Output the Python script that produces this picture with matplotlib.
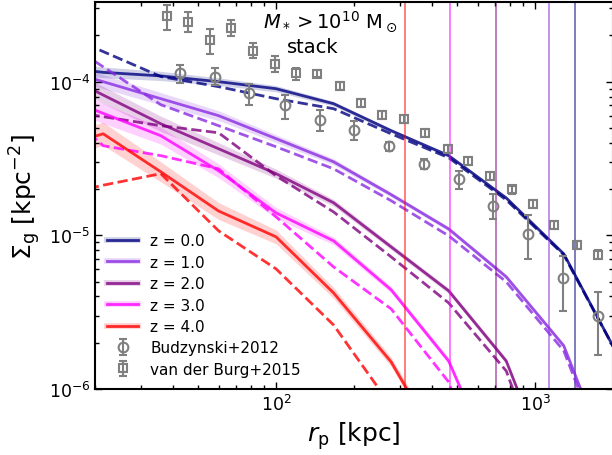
import matplotlib

matplotlib.use("Agg")
import matplotlib.pyplot as plt
import numpy as np
from matplotlib.lines import Line2D

# radial bins of the simulated profiles [kpc]
r_kpc = [12.9, 21.5, 35.9, 60.0, 100.0, 166.8, 278.3, 464.2, 774.3, 1291.5, 2154.4]

z_labels = ["z = 0.0", "z = 1.0", "z = 2.0", "z = 3.0", "z = 4.0"]
z_colors = ["navy", "blueviolet", "purple", "magenta", "red"]

# solid: stack profile, dashed: second estimate, band: scatter in dex
sigma_z0 = [1.27e-4, 1.15e-4, 1.09e-4, 1.00e-4, 9.0e-5, 7.19e-5, 4.80e-5, 3.30e-5, 1.75e-5, 7.57e-6, 1.50e-6]
sigma_z0_dash = [2.30e-4, 1.57e-4, 1.08e-4, 9.28e-5, 7.75e-5, 6.67e-5, 4.58e-5, 3.20e-5, 1.70e-5, 7.46e-6, 1.50e-6]
band_z0 = [0.04, 0.035, 0.03, 0.025, 0.02, 0.015, 0.012, 0.012, 0.012, 0.012, 0.012]

sigma_z1 = [1.29e-4, 1.00e-4, 7.75e-5, 6.01e-5, 4.26e-5, 3.01e-5, 1.84e-5, 1.10e-5, 5.37e-6, 1.91e-6, 2.1e-7]
sigma_z1_dash = [2.20e-4, 1.25e-4, 7.08e-5, 5.17e-5, 3.77e-5, 2.71e-5, 1.68e-5, 9.93e-6, 4.98e-6, 1.77e-6, 1.9e-7]
band_z1 = [0.05, 0.045, 0.04, 0.032, 0.025, 0.02, 0.015, 0.015, 0.015, 0.015, 0.015]

sigma_z2 = [1.26e-4, 8.19e-5, 5.32e-5, 3.66e-5, 2.52e-5, 1.63e-5, 8.41e-6, 4.35e-6, 1.52e-6, 1.7e-7, np.nan]
sigma_z2_dash = [6.77e-5, 5.92e-5, 5.17e-5, 4.65e-5, 2.44e-5, 1.42e-5, 7.24e-6, 3.63e-6, 1.31e-6, 1.24e-7, np.nan]
band_z2 = [0.06, 0.055, 0.05, 0.04, 0.03, 0.022, 0.018, 0.018, 0.018, 0.018, 0.018]

sigma_z3 = [8.74e-5, 6.22e-5, 4.45e-5, 2.63e-5, 1.40e-5, 9.21e-6, 4.42e-6, 1.52e-6, 2.07e-7, np.nan, np.nan]
sigma_z3_dash = [8.35e-5, 3.83e-5, 3.30e-5, 2.71e-5, 1.32e-5, 6.23e-6, 3.32e-6, 1.11e-6, 1.0e-7, np.nan, np.nan]
band_z3 = [0.07, 0.065, 0.055, 0.045, 0.035, 0.025, 0.02, 0.02, 0.02, 0.02, 0.02]

sigma_z4 = [3.53e-5, 4.58e-5, 2.59e-5, 1.44e-5, 9.78e-6, 4.22e-6, 1.50e-6, 3.40e-7, np.nan, np.nan, np.nan]
sigma_z4_dash = [1.74e-5, 2.12e-5, 2.52e-5, 1.07e-5, 6.05e-6, 2.61e-6, 7.75e-7, np.nan, np.nan, np.nan, np.nan]
band_z4 = [0.08, 0.075, 0.065, 0.055, 0.045, 0.035, 0.03, 0.03, 0.03, 0.03, 0.03]

# vertical markers per redshift [kpc]
r_vir = [1426, 1132, 708, 471, 314]

# Budzynski+2012
bud_r = [42.4, 58.2, 78.8, 108.3, 147.6, 199.6, 274.2, 374.2, 510.6, 689, 940, 1282, 1745]
bud_sigma = [1.14e-4, 1.08e-4, 8.44e-5, 7.01e-5, 5.65e-5, 4.87e-5, 3.83e-5, 2.92e-5, 2.33e-5, 1.56e-5, 1.02e-5, 5.26e-6, 2.98e-6]
bud_hi = [1.28e-4, 1.22e-4, 9.70e-5, 8.23e-5, 6.57e-5, 5.57e-5, 4.07e-5, 3.15e-5, 2.63e-5, 1.86e-5, 1.35e-5, 7.38e-6, 4.31e-6]
bud_lo = [9.85e-5, 9.46e-5, 7.01e-5, 5.74e-5, 4.77e-5, 4.19e-5, 3.55e-5, 2.71e-5, 2.01e-5, 1.28e-5, 7.03e-6, 3.24e-6, 1.66e-6]

# van der Burg+2015
vdb_r = [37.8, 45.9, 55.7, 67.1, 81.6, 99.1, 119.4, 143.8, 176.3, 212.4, 255.9, 310.6, 377.6,
         459.3, 552.6, 671.5, 816.8, 982.4, 1183, 1451, 1745]
vdb_sigma = [2.67e-4, 2.45e-4, 1.86e-4, 2.25e-4, 1.58e-4, 1.31e-4, 1.14e-4, 1.13e-4, 9.42e-5, 7.30e-5, 6.10e-5,
             5.74e-5, 4.65e-5, 3.66e-5, 3.06e-5, 2.44e-5, 1.99e-5, 1.60e-5, 1.17e-5, 8.70e-6, 7.50e-6]
vdb_hi = [3.17e-4, 2.84e-4, 2.21e-4, 2.53e-4, 1.79e-4, 1.46e-4, 1.22e-4, 1.20e-4, 1.00e-4, 7.75e-5, 6.48e-5,
          6.10e-5, 4.94e-5, 3.89e-5, 3.25e-5, 2.59e-5, 2.11e-5, 1.70e-5, 1.24e-5, 9.24e-6, 7.97e-6]
vdb_lo = [2.18e-4, 2.11e-4, 1.51e-4, 1.99e-4, 1.43e-4, 1.16e-4, 1.03e-4, 1.065e-4, 8.87e-5, 6.87e-5, 5.74e-5,
          5.40e-5, 4.38e-5, 3.45e-5, 2.88e-5, 2.30e-5, 1.87e-5, 1.51e-5, 1.10e-5, 8.19e-6, 7.06e-6]


def asym_err(values, lo, hi):
    values = np.asarray(values)
    return [values - np.asarray(lo), np.asarray(hi) - values]


fig = plt.figure(figsize=(6.12, 4.56), dpi=100)
ax = fig.add_axes([95 / 612, 66 / 456, 518 / 612, 387 / 456])

r = np.asarray(r_kpc)
profiles = [
    (sigma_z0, sigma_z0_dash, band_z0),
    (sigma_z1, sigma_z1_dash, band_z1),
    (sigma_z2, sigma_z2_dash, band_z2),
    (sigma_z3, sigma_z3_dash, band_z3),
    (sigma_z4, sigma_z4_dash, band_z4),
]

handles = []
for (solid, dashed, band), color, label, rv in zip(profiles, z_colors, z_labels, r_vir):
    solid = np.asarray(solid)
    band = np.asarray(band)
    ax.fill_between(r, solid * 10 ** (-band), solid * 10 ** band, color=color, alpha=0.18, lw=0)
    ax.plot(r, solid, color=color, lw=2, alpha=0.8)
    ax.plot(r, dashed, "--", color=color, lw=2, alpha=0.8)
    ax.axvline(rv, color=color, lw=1.3, alpha=0.55)
    halo = Line2D([], [], color=color, lw=4, alpha=0.2)
    line = Line2D([], [], color=color, lw=2, alpha=0.8)
    handles.append((halo, line))

bud = ax.errorbar(
    bud_r, bud_sigma, yerr=asym_err(bud_sigma, bud_lo, bud_hi),
    fmt="o", ms=7, mfc="none", mec="gray", mew=1.5,
    ecolor="gray", elinewidth=1.5, capsize=3, capthick=1.5, zorder=5,
)
vdb = ax.errorbar(
    vdb_r, vdb_sigma, yerr=asym_err(vdb_sigma, vdb_lo, vdb_hi),
    fmt="s", ms=6, mfc="none", mec="gray", mew=1.5,
    ecolor="gray", elinewidth=1.5, capsize=3, capthick=1.5, zorder=5,
)
handles += [bud, vdb]
labels = z_labels + ["Budzynski+2012", "van der Burg+2015"]

ax.set_xscale("log")
ax.set_yscale("log")
ax.set_xlim(20, 2000)
ax.set_ylim(1e-6, 3.3e-4)

ax.tick_params(which="both", direction="in", top=True, right=True, width=1)
ax.tick_params(which="major", length=5, labelsize=12.5)
ax.tick_params(which="minor", length=3)
for spine in ax.spines.values():
    spine.set_linewidth(1.5)

ax.set_xlabel(r"$r_{\rm p}$ [kpc]", fontsize=18)
ax.set_ylabel(r"$\Sigma_{\rm g}$ [kpc$^{-2}$]", fontsize=18)

ax.text(0.324, 0.935, r"$M_* > 10^{10}$ M$_\odot$", transform=ax.transAxes, fontsize=14, va="baseline")
ax.text(0.371, 0.871, "stack", transform=ax.transAxes, fontsize=14, va="baseline")

ax.legend(handles, labels, loc="lower left", frameon=False, fontsize=11,
          labelspacing=0.42, handlelength=2.0, borderaxespad=0.4)

fig.savefig("out.png", dpi=100)
